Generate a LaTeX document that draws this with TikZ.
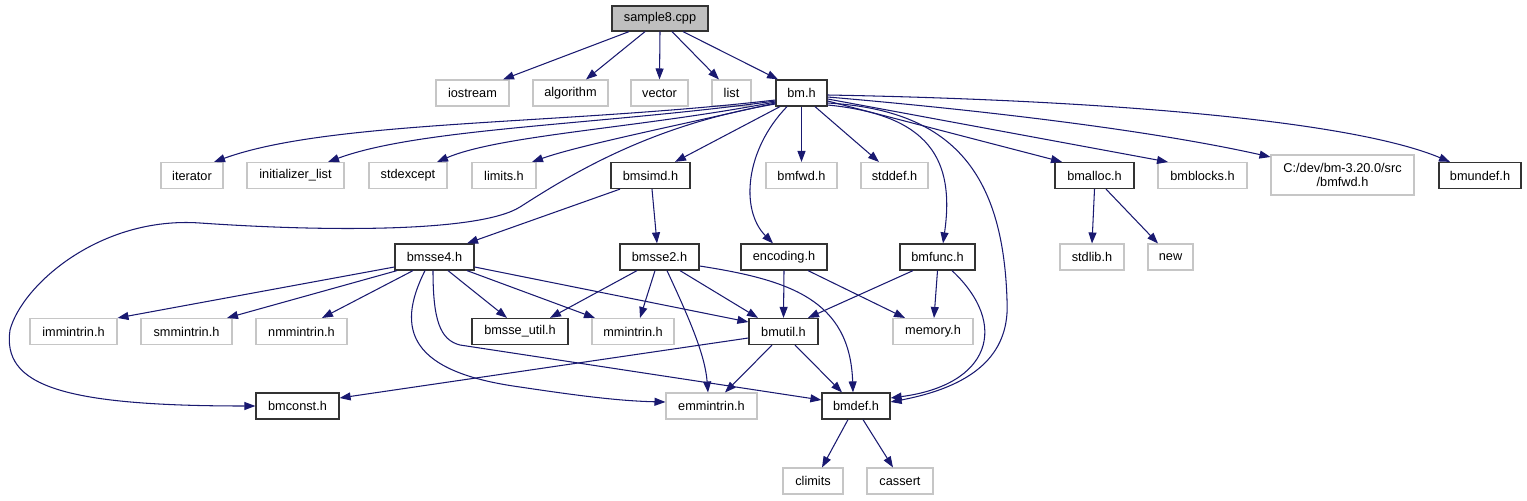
\documentclass[tikz,border=0pt]{standalone}
\usepackage{fontspec}
\setmainfont{Liberation Sans}
\usetikzlibrary{arrows.meta,calc}

\definecolor{edgeblue}{HTML}{191970}
\newcommand{\doxfont}{\fontsize{7.25}{8}\selectfont}

\tikzset{
    box/.style={rectangle, inner sep=0pt, minimum height=26*0.02cm, font=\doxfont},
    sys/.style={box, draw=gray!45, line width=0.6pt},
    hdr/.style={box, draw=black!80, line width=0.7pt},
    src/.style={hdr, fill=gray!50},
    wd/.style={minimum width=#1*0.02cm},
    inc/.style={draw=edgeblue, line width=0.6pt, -{Triangle[length=0.22cm,width=0.16cm]}}
}

\begin{document}
\begin{tikzpicture}[x=0.02cm, y=-0.02cm]
    \useasboundingbox (0,0) rectangle (1527,500);

    % File being documented
    \node[src, wd=96, minimum height=25*0.02cm] (sample8) at (660,18.5) {sample8.cpp};

    % Direct includes
    \node[sys, wd=73] (iostream) at (472.5,93) {iostream};
    \node[sys, wd=75] (algorithm) at (570.5,93) {algorithm};
    \node[sys, wd=57] (vector) at (659.5,93) {vector};
    \node[sys, wd=39] (list) at (731.5,93) {list};
    \node[hdr, wd=51] (bm) at (801.5,93) {bm.h};

    % Included by bm.h
    \node[sys, wd=62] (iterator) at (192,175.5) {iterator};
    \node[sys, wd=97] (initlist) at (295.5,175.5) {initializer\_list};
    \node[sys, wd=78] (stdexcept) at (408,175.5) {stdexcept};
    \node[sys, wd=64] (limits) at (504,175.5) {limits.h};
    \node[hdr, wd=79] (bmsimd) at (650.5,175.5) {bmsimd.h};
    \node[sys, wd=71] (bmfwd) at (801.5,175.5) {bmfwd.h};
    \node[sys, wd=67] (stddef) at (894.5,175.5) {stddef.h};
    \node[hdr, wd=79] (bmalloc) at (1094.5,175.5) {bmalloc.h};
    \node[sys, wd=89] (bmblocks) at (1202.5,175.5) {bmblocks.h};
    \node[sys, wd=143, minimum height=40*0.02cm, align=center] (cdev) at (1342.5,175) {C:/dev/bm-3.20.0/src\\/bmfwd.h};
    \node[hdr, wd=82] (bmundef) at (1480,175.5) {bmundef.h};

    % Third level
    \node[sys, wd=64] (stdlib) at (1092,257) {stdlib.h};
    \node[sys, wd=45] (new) at (1170.5,257) {new};
    \node[hdr, wd=79] (bmsse4) at (434.5,257) {bmsse4.h};
    \node[hdr, wd=79] (bmsse2) at (659.5,257) {bmsse2.h};
    \node[hdr, wd=86] (encoding) at (784,257) {encoding.h};
    \node[hdr, wd=75] (bmfunc) at (937.5,257) {bmfunc.h};

    % Intrinsics and utilities
    \node[sys, wd=87] (immintrin) at (73.5,331.5) {immintrin.h};
    \node[sys, wd=91] (smmintrin) at (186.5,331.5) {smmintrin.h};
    \node[sys, wd=91] (nmmintrin) at (301.5,331.5) {nmmintrin.h};
    \node[hdr, wd=96] (bmsseutil) at (520,331.5) {bmsse\_util.h};
    \node[sys, wd=82] (mmintrin) at (633,331.5) {mmintrin.h};
    \node[hdr, wd=69] (bmutil) at (783.5,331.5) {bmutil.h};
    \node[sys, wd=80] (memory) at (933,331.5) {memory.h};

    \node[hdr, wd=83] (bmconst) at (297.5,406) {bmconst.h};
    \node[sys, wd=91] (emmintrin) at (711.5,406) {emmintrin.h};
    \node[hdr, wd=68] (bmdef) at (856,406) {bmdef.h};

    \node[sys, wd=60] (climits) at (813,481) {climits};
    \node[sys, wd=66] (cassert) at (900,481) {cassert};

    % sample8.cpp
    \draw[inc] ($(sample8.south)+(-31,0)$) -- ($(iostream.north)+(30.5,0)$);
    \draw[inc] ($(sample8.south)+(-15,0)$) -- ($(algorithm.north)+(15.5,0)$);
    \draw[inc] (sample8.south) -- (vector.north);
    \draw[inc] ($(sample8.south)+(12,0)$) -- ($(list.north)+(-12.5,0)$);
    \draw[inc] ($(sample8.south)+(23,0)$) -- ($(bm.north)+(-23.5,0)$);

    % bm.h
    \draw[inc] ($(bm.west)+(0,7)$) .. controls (560,125) and (330,120) .. ($(iterator.north)+(22,0)$);
    \draw[inc] ($(bm.west)+(0,8)$) .. controls (600,125) and (420,128) .. ($(initlist.north)+(32.5,0)$);
    \draw[inc] ($(bm.west)+(0,9)$) .. controls (640,128) and (500,135) .. ($(stdexcept.north)+(29,0)$);
    \draw[inc] ($(bm.west)+(0,10)$) .. controls (680,125) and (580,145) .. ($(limits.north)+(28,0)$);
    \draw[inc] ($(bm.west)+(0,11)$) .. controls (650,125) and (570,175) .. (520,207)
        .. controls (480,232) and (330,232) .. (200,223)
        .. controls (100,216) and (22,285) .. (10,330)
        .. controls (2,385) and (60,406) .. (bmconst.west);
    \draw[inc] ($(bm.south)+(-21.5,0)$) -- ($(bmsimd.north)+(24.5,0)$);
    \draw[inc] ($(bm.south)+(-14.5,0)$) .. controls (745,150) and (740,210) .. ($(encoding.north)+(-11,0)$);
    \draw[inc] (bm.south) -- (bmfwd.north);
    \draw[inc] ($(bm.south)+(13.5,0)$) -- ($(stddef.north)+(-15.5,0)$);
    \draw[inc] ($(bm.east)+(0,12)$) .. controls (930,115) and (955,160) .. ($(bmfunc.north)+(5.5,0)$);
    \draw[inc] ($(bm.east)+(0,10)$) .. controls (950,110) and (1003,170) .. (1007,300)
        .. controls (1010,350) and (980,385) .. ($(bmdef.east)+(0,-4)$);
    \draw[inc] ($(bm.east)+(0,8)$) -- ($(bmalloc.north)+(-32.5,0)$);
    \draw[inc] ($(bm.east)+(0,6)$) -- ($(bmblocks.north)+(-34.5,0)$);
    \draw[inc] ($(bm.east)+(0,4)$) .. controls (980,110) and (1150,130) .. ($(cdev.west)+(0,-18)$);
    \draw[inc] ($(bm.east)+(0,2)$) .. controls (1100,100) and (1350,120) .. ($(bmundef.north)+(-30,0)$);

    % bmsimd.h
    \draw[inc] ($(bmsimd.south)+(-30.5,0)$) -- ($(bmsse4.north)+(32.5,0)$);
    \draw[inc] ($(bmsimd.south)+(1.5,0)$) -- ($(bmsse2.north)+(-2.5,0)$);

    % bmalloc.h
    \draw[inc] (bmalloc.south) -- (stdlib.north);
    \draw[inc] ($(bmalloc.south)+(11.5,0)$) -- ($(new.north)+(-12.5,0)$);

    % bmsse4.h
    \draw[inc] ($(bmsse4.west)+(0,10)$) -- (immintrin.north east);
    \draw[inc] ($(bmsse4.south)+(-37.5,0)$) -- ($(smmintrin.north)+(40.5,0)$);
    \draw[inc] ($(bmsse4.south)+(-21.5,0)$) -- ($(nmmintrin.north)+(20.5,0)$);
    \draw[inc] ($(bmsse4.south)+(13.5,0)$) -- ($(bmsseutil.north)+(-13,0)$);
    \draw[inc] ($(bmsse4.south)+(32.5,0)$) -- ($(mmintrin.north)+(-38,0)$);
    \draw[inc] ($(bmsse4.east)+(0,10)$) -- ($(bmutil.west)+(0,-9.5)$);
    \draw[inc] ($(bmsse4.south)+(-9.5,0)$) .. controls (395,330) and (410,372) .. (520,387)
        .. controls (580,396) and (620,401) .. ($(emmintrin.west)+(0,-4)$);
    \draw[inc] ($(bmsse4.south)+(-1.5,0)$) .. controls (433,320) and (440,340) .. (460,345)
        -- ($(bmdef.west)+(0,-6)$);

    % bmsse2.h
    \draw[inc] ($(bmsse2.south)+(-22.5,0)$) -- ($(bmsseutil.north)+(30,0)$);
    \draw[inc] ($(bmsse2.south)+(-4.5,0)$) -- ($(mmintrin.north)+(7,0)$);
    \draw[inc] ($(bmsse2.south)+(7.5,0)$) .. controls (690,320) and (705,355) .. ($(emmintrin.north)+(-3.5,0)$);
    \draw[inc] ($(bmsse2.south)+(20.5,0)$) -- ($(bmutil.north)+(-25.5,0)$);
    \draw[inc] ($(bmsse2.east)+(0,9)$) .. controls (790,280) and (850,300) .. ($(bmdef.north)+(-3,0)$);

    % encoding.h
    \draw[inc] (encoding.south) -- (bmutil.north);
    \draw[inc] ($(encoding.south)+(24,0)$) -- ($(memory.north)+(-28,0)$);

    % bmfunc.h
    \draw[inc] ($(bmfunc.south)+(-24.5,0)$) -- ($(bmutil.north)+(24.5,0)$);
    \draw[inc] (bmfunc.south) -- ($(memory.north)+(1,0)$);
    \draw[inc] ($(bmfunc.south)+(14.5,0)$) .. controls (1010,325) and (990,385) .. ($(bmdef.east)+(0,-8)$);

    % bmutil.h
    \draw[inc] ($(bmutil.west)+(0,6.5)$) -- ($(bmconst.east)+(0,-8)$);
    \draw[inc] ($(bmutil.south)+(-11.5,0)$) -- ($(emmintrin.north)+(13.5,0)$);
    \draw[inc] ($(bmutil.south)+(11.5,0)$) -- ($(bmdef.north)+(-14,0)$);

    % bmdef.h
    \draw[inc] ($(bmdef.south)+(-8,0)$) -- ($(climits.north)+(9,0)$);
    \draw[inc] ($(bmdef.south)+(7,0)$) -- ($(cassert.north)+(-7,0)$);
\end{tikzpicture}
\end{document}
